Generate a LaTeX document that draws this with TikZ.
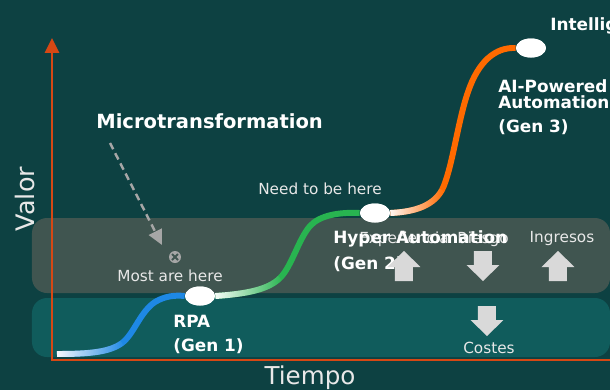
\documentclass[tikz,border=0pt]{standalone}
\usepackage{fontspec}
\setmainfont{DejaVu Sans}
\usetikzlibrary{arrows.meta,shapes.geometric,fadings}
\definecolor{bgteal}{RGB}{13,65,66}
\definecolor{bandgray}{RGB}{64,85,80}
\definecolor{bandteal}{RGB}{16,92,92}
\definecolor{axisred}{RGB}{214,72,20}
\definecolor{rpablue}{RGB}{30,136,229}
\definecolor{hypergreen}{RGB}{40,180,80}
\definecolor{aiorange}{RGB}{255,106,0}
\definecolor{blockgray}{RGB}{217,217,217}
\definecolor{dashgray}{RGB}{166,166,166}
\definecolor{softwhite}{RGB}{232,232,232}
\tikzfading[name=whiteout, left color=transparent!0, right color=transparent!100]
\def\upblock(#1,#2){\fill[blockgray] (#1,#2) -- ++(16.5,16) -- ++(-7.5,0) -- ++(0,14) -- ++(-18,0) -- ++(0,-14) -- ++(-7.5,0) -- cycle;}
\def\downblock(#1,#2){\fill[blockgray] (#1,#2) ++(-9,0) -- ++(18,0) -- ++(0,14) -- ++(7.5,0) -- ++(-16.5,16) -- ++(-16.5,-16) -- ++(7.5,0) -- cycle;}

\begin{document}
\begin{tikzpicture}[x=0.02cm, y=-0.02cm,
		stage/.style={ellipse, fill=white, minimum width=0.6cm, minimum height=0.38cm, inner sep=0pt},
		genlabel/.style={white, font=\bfseries\fontsize{9.6}{11}\selectfont, anchor=west, inner sep=0pt},
		note/.style={softwhite, font=\fontsize{8.7}{10}\selectfont, inner sep=0pt},
		curve/.style={line width=3.4pt},
		axis/.style={axisred, line width=1.4pt}]
			%%%%% START %%%%%
			
			\useasboundingbox (0,0) rectangle (610,390);
			\fill[bgteal] (0,0) rectangle (610,390);
			
			\fill[bandgray, rounded corners=0.3cm] (32,218) rectangle (610,293);
			\fill[bandteal, rounded corners=0.3cm] (32,298) rectangle (610,357);
			
			\coordinate (ytop) at (52,38);
			\coordinate (corner) at (52,360);
			\coordinate (xend) at (610,360);
			\draw[axis, {Triangle[length=8.5pt,width=8pt]}-] (ytop) -- (corner) -- (xend);
			
			\node[rotate=90, softwhite, font=\fontsize{14.5}{16}\selectfont] (valor) at (25,199) {Valor};
			\node[softwhite, font=\fontsize{14}{16}\selectfont] (tiempo) at (310,378) {Tiempo};
			
			\coordinate (start) at (57,354);
			\node[stage] (g1) at (200,296) {};
			\node[stage] (g2) at (375,213) {};
			\node[stage] (g3) at (531,48) {};
			
			\draw[curve, rpablue] (start) .. controls (90,354) and (110,352) .. (122,343) .. controls (134,334) and (140,312) .. (155,302) .. controls (165,296) and (175,295) .. (g1.west);
			\draw[curve, white, path fading=whiteout] (start) .. controls (90,354) and (110,352) .. (122,343);
			
			\draw[curve, hypergreen] (g1.east) .. controls (245,294) and (268,290) .. (280,278) .. controls (292,266) and (298,240) .. (310,226) .. controls (320,215) and (340,212) .. (g2.west);
			\draw[curve, white, path fading=whiteout] (g1.east) .. controls (245,294) and (268,290) .. (280,278);
			
			\draw[curve, aiorange] (g2.east) .. controls (410,212) and (432,208) .. (442,190) .. controls (452,170) and (458,120) .. (468,92) .. controls (478,62) and (495,47) .. (g3.west);
			\draw[curve, white, path fading=whiteout] (g2.east) .. controls (410,212) and (432,208) .. (442,190);
			
			\node[stage] at (g1) {};
			\node[stage] at (g2) {};
			\node[stage] at (g3) {};
			
			\node[white, font=\bfseries\fontsize{11.1}{13}\selectfont, anchor=west, inner sep=0pt] (micro) at (96,121) {Microtransformation};
			\coordinate (dashstart) at (110,143);
			\coordinate (dashend) at (162,245);
			\draw[dashgray, line width=1.4pt, dash pattern=on 4pt off 2.5pt, -{Triangle[length=8.5pt,width=8pt]}] (dashstart) -- (dashend);
			
			\node[circle, fill=dashgray, minimum size=0.24cm, inner sep=0pt] (crowd) at (175,257) {};
			\draw[bandgray, line width=1.1pt] (crowd.center) ++(-3,-3) -- ++(6,6) ++(-6,0) -- ++(6,-6);
			\node[note] (most) at (170,276) {Most are here};
			\node[note] (need) at (320,189) {Need to be here};
			
			\node[genlabel] (rpa) at (173,321) {RPA};
			\node[genlabel] (gen1) at (173,346) {(Gen 1)};
			\node[note] (exper) at (404,239) {Experiencia};
			\node[note] (riesgo) at (483,239) {Riesgo};
			\node[note] (ingresos) at (562,239) {Ingresos};
			\node[genlabel] (hyper) at (333,239) {Hyper Automation};
			\node[genlabel] (gen2) at (333,264) {(Gen 2)};
			\node[genlabel, align=left, font=\bfseries\fontsize{9.6}{9.2}\selectfont] (aipow) at (498,94) {AI-Powered\\Automation};
			\node[genlabel] (gen3) at (498,127) {(Gen 3)};
			\node[genlabel] (intel) at (550,26) {Intelligent};
			
			\upblock(404,251)
			\downblock(483,251)
			\upblock(558,251)
			\downblock(487,306)
			\node[note] (costes) at (489,348) {Costes};
			
			%%%%% END %%%%%
		\end{tikzpicture}
\end{document}
